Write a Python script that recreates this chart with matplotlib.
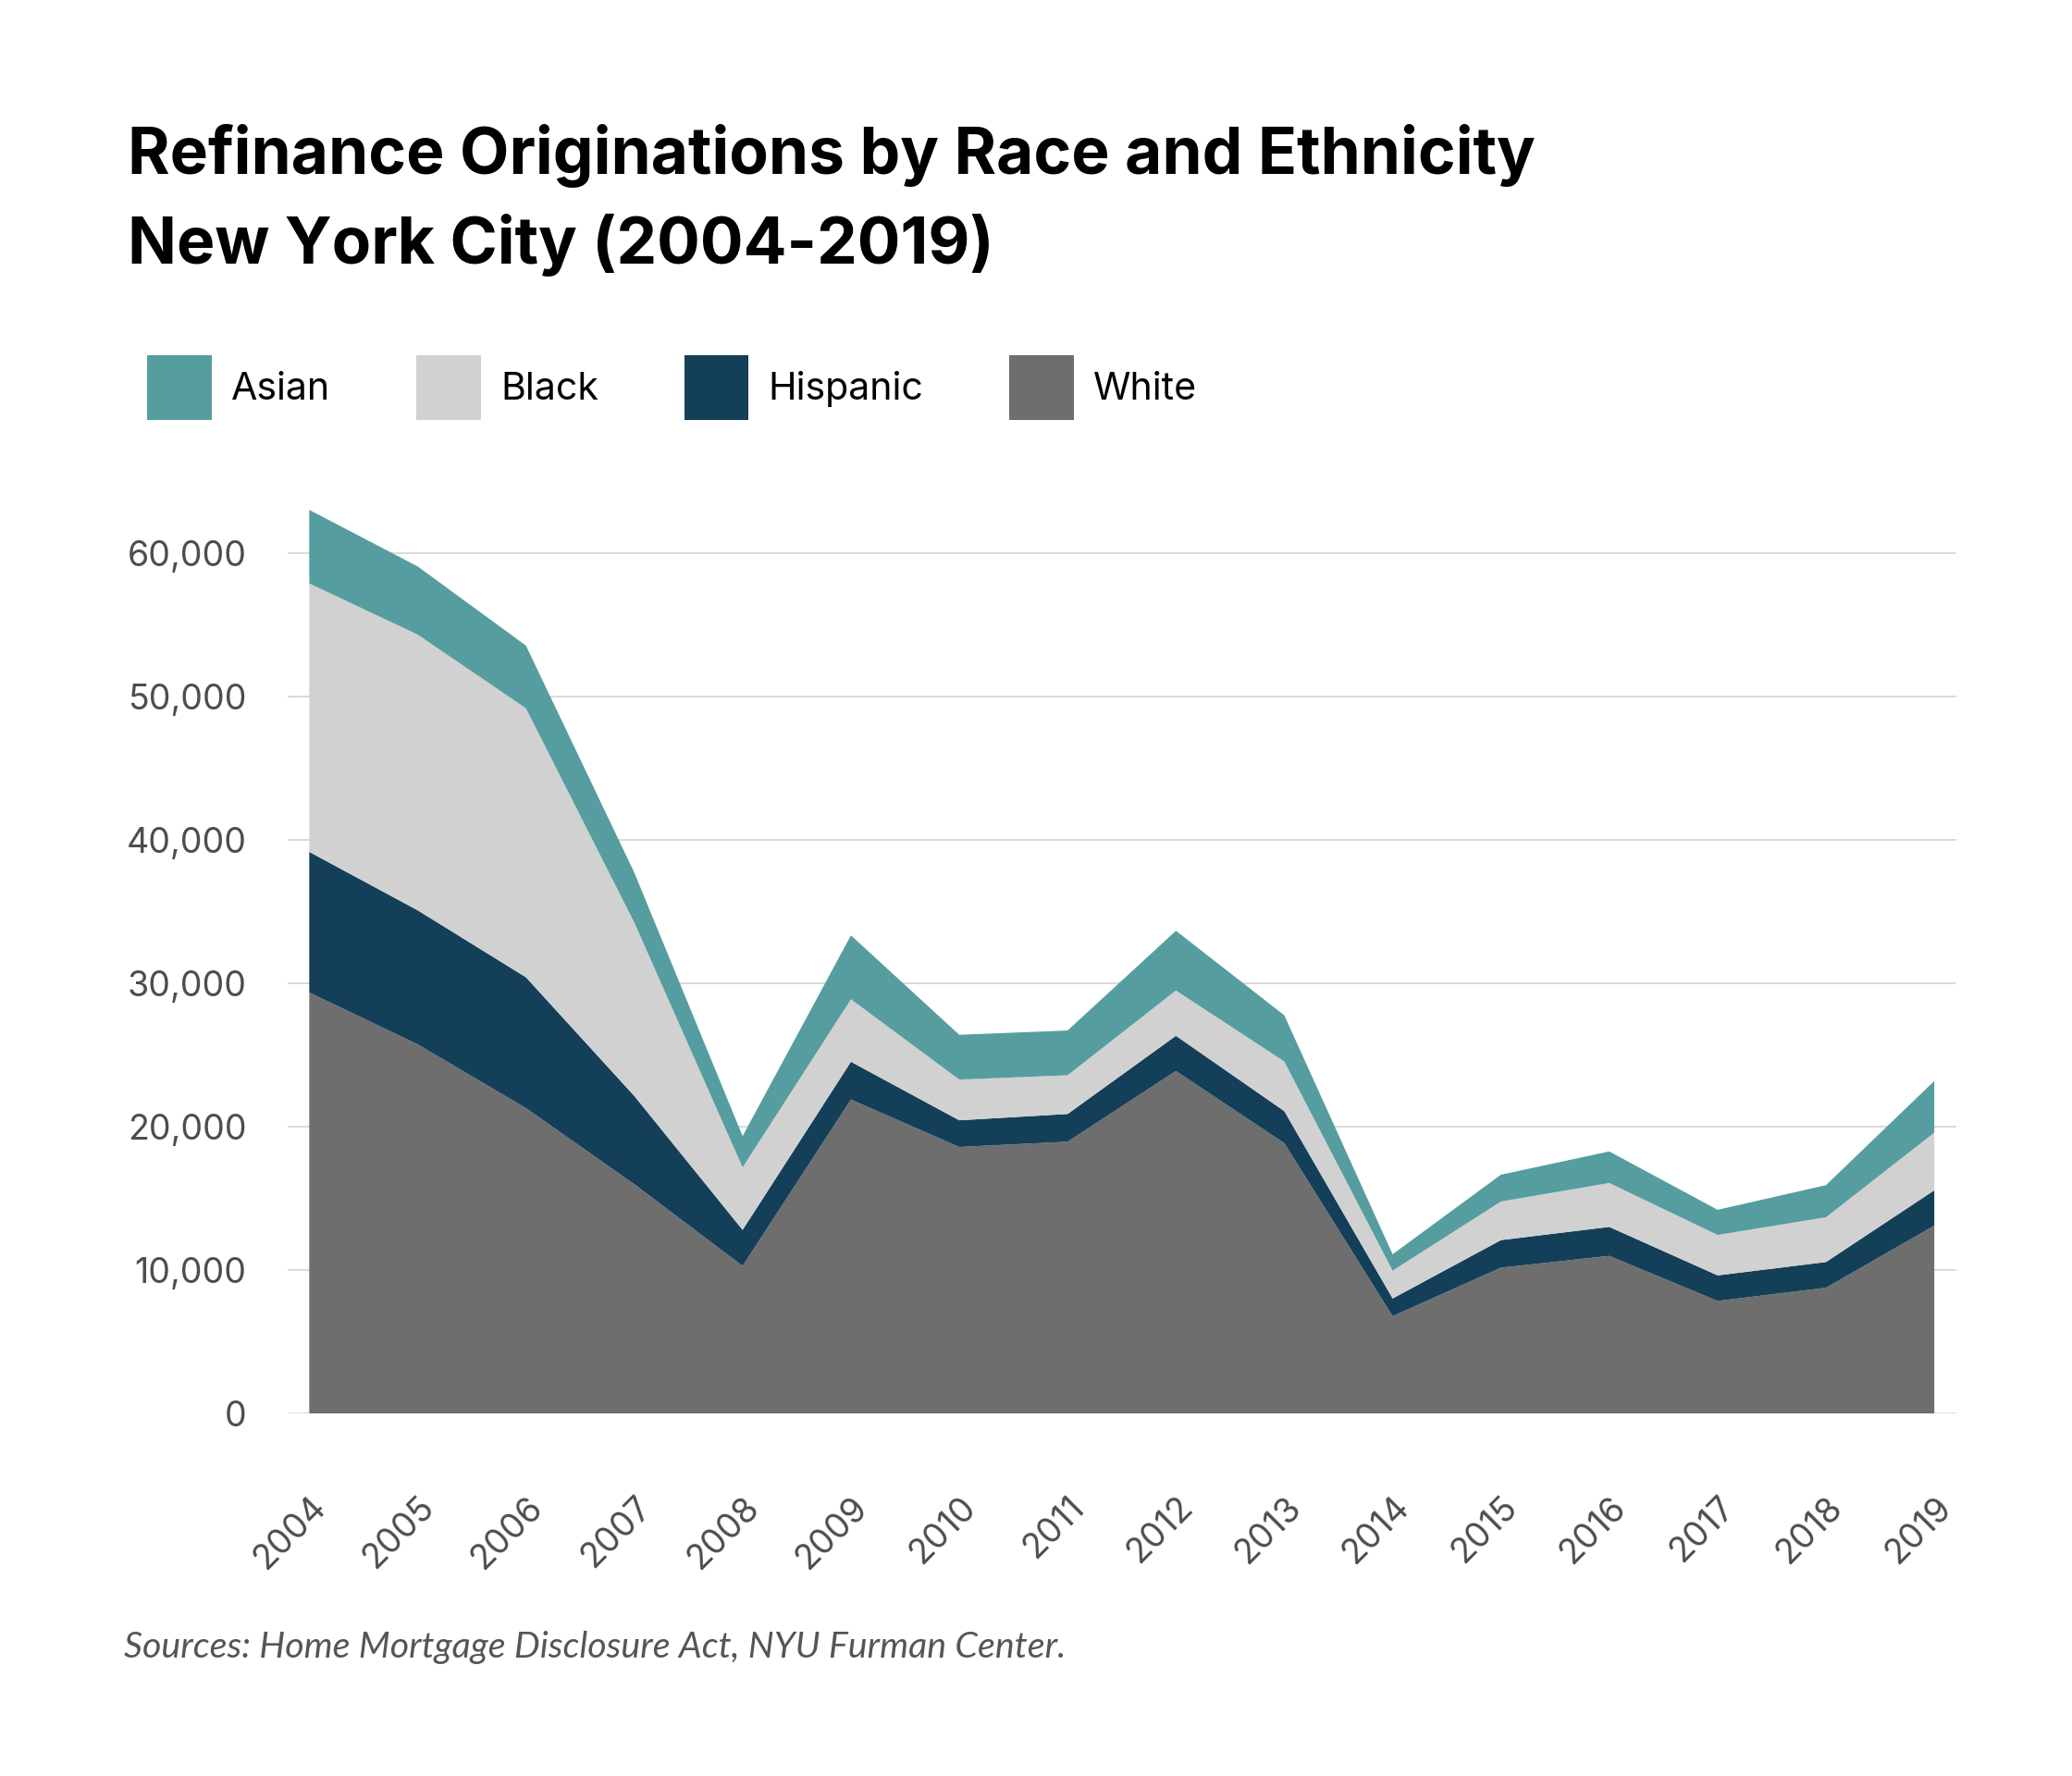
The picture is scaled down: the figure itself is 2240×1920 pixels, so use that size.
import numpy as np
import matplotlib.pyplot as plt
from matplotlib.patches import Patch

plt.rcParams['font.family'] = ['Lato', 'DejaVu Sans']

years = list(range(2004, 2020))
white = [29360, 25750, 21300, 16000, 10300, 21900, 18590, 18960,
         23890, 18860, 6800, 10180, 11000, 7860, 8780, 13110]
hispanic = [9800, 9340, 9120, 6150, 2510, 2630, 1860, 1930,
            2450, 2230, 1230, 1920, 2020, 1780, 1790, 2460]
black = [18710, 19220, 18750, 12090, 4360, 4360, 2840, 2700,
         3160, 3460, 1940, 2690, 3060, 2820, 3120, 4020]
asian = [5130, 4750, 4370, 3480, 2180, 4450, 3120, 3120,
         4160, 3220, 1140, 1870, 2200, 1750, 2240, 3600]

series_names = ['White', 'Hispanic', 'Black', 'Asian']
colors = {'Asian': '#569d9f', 'Black': '#d1d1d1',
          'Hispanic': '#143f59', 'White': '#6e6e6e'}
y_ticks = [0, 10000, 20000, 30000, 40000, 50000, 60000]

inter = ['Inter', 'DejaVu Sans']

fig = plt.figure(figsize=(11.2, 9.6), dpi=200)
ax = fig.add_axes([0.1388, 0.204, 0.944 - 0.1388, 0.721 - 0.204])

ax.stackplot(years, white, hispanic, black, asian,
             colors=[colors[n] for n in series_names], linewidth=0)

ax.set_xlim(2003.8, 2019.2)
ax.set_ylim(0, 64000)
ax.set_yticks(y_ticks)
ax.set_yticklabels(['{:,}'.format(v) for v in y_ticks], family=inter)
ax.set_xticks(years)
ax.set_xticklabels([str(y) for y in years], rotation=45, ha='right', va='top',
                   rotation_mode='anchor', family=inter)

ax.yaxis.grid(True, color='#d9d9d9', linewidth=0.7)
ax.set_axisbelow(True)
for s in ax.spines.values():
    s.set_visible(False)
ax.tick_params(axis='y', length=0, pad=16, labelsize=13.5, labelcolor='#4d4d4d')
ax.tick_params(axis='x', length=0, pad=30, labelsize=13.5, labelcolor='#4d4d4d')

# titulo
fig.text(138 / 2240, 1 - 188 / 1920, 'Refinance Originations by Race and Ethnicity',
         fontsize=25, fontweight='bold', color='black', va='baseline', family=inter)
fig.text(138 / 2240, 1 - 285 / 1920, 'New York City (2004-2019)',
         fontsize=25, fontweight='bold', color='black', va='baseline', family=inter)

# leyenda
handles = [Patch(facecolor=colors[n], edgecolor='none', label=n)
           for n in ['Asian', 'Black', 'Hispanic', 'White']]
fig.legend(handles=handles, loc='upper left', ncol=4, frameon=False,
           bbox_to_anchor=(159 / 2240, 1 - 384 / 1920), borderpad=0,
           borderaxespad=0, handlelength=1.7, handleheight=2.25,
           handletextpad=0.52, columnspacing=2.25,
           prop={'family': inter, 'size': 14.8})

fig.text(134 / 2240, 1 - 1792 / 1920,
         'Sources: Home Mortgage Disclosure Act, NYU Furman Center.',
         fontsize=14.2, fontstyle='italic', color='#555555', va='baseline')

fig.savefig('out.png', dpi=200, facecolor='white')
